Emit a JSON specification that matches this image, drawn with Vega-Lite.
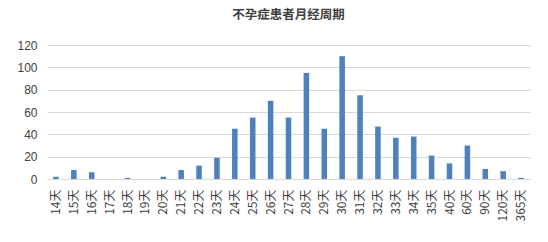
{
  "$schema": "https://vega.github.io/schema/vega-lite/v6.json",
  "autosize": "none",
  "width": 483,
  "height": 134,
  "padding": {"left": 47, "top": 45, "right": 18, "bottom": 63},
  "background": "white",
  "title": {
    "text": "不孕症患者月经周期",
    "font": "Noto Sans CJK SC",
    "fontSize": 12.5,
    "fontWeight": "bold",
    "color": "#404040",
    "offset": 18,
    "anchor": "middle"
  },
  "data": {
    "values": [
      {"cycle": "14天", "count": 2},
      {"cycle": "15天", "count": 8},
      {"cycle": "16天", "count": 6},
      {"cycle": "17天", "count": 0},
      {"cycle": "18天", "count": 1},
      {"cycle": "19天", "count": 0},
      {"cycle": "20天", "count": 2},
      {"cycle": "21天", "count": 8},
      {"cycle": "22天", "count": 12},
      {"cycle": "23天", "count": 19},
      {"cycle": "24天", "count": 45},
      {"cycle": "25天", "count": 55},
      {"cycle": "26天", "count": 70},
      {"cycle": "27天", "count": 55},
      {"cycle": "28天", "count": 95},
      {"cycle": "29天", "count": 45},
      {"cycle": "30天", "count": 110},
      {"cycle": "31天", "count": 75},
      {"cycle": "32天", "count": 47},
      {"cycle": "33天", "count": 37},
      {"cycle": "34天", "count": 38},
      {"cycle": "35天", "count": 21},
      {"cycle": "40天", "count": 14},
      {"cycle": "60天", "count": 30},
      {"cycle": "90天", "count": 9},
      {"cycle": "120天", "count": 7},
      {"cycle": "365天", "count": 1}
    ]
  },
  "mark": {"type": "bar", "color": "#4f81bd"},
  "encoding": {
    "x": {
      "field": "cycle",
      "type": "nominal",
      "sort": null,
      "scale": {"paddingInner": 0.69, "paddingOuter": 0.345},
      "axis": {
        "title": null,
        "labelAngle": -90,
        "labelFont": "Noto Sans CJK SC",
        "labelFontSize": 12,
        "labelColor": "#404040",
        "labelPadding": 10,
        "ticks": false,
        "domainColor": "#d9d9d9",
        "domainWidth": 1
      }
    },
    "y": {
      "field": "count",
      "type": "quantitative",
      "scale": {"domain": [0, 120], "nice": false},
      "axis": {
        "title": null,
        "values": [0, 20, 40, 60, 80, 100, 120],
        "labelFont": "Liberation Sans",
        "labelFontSize": 12,
        "labelColor": "#404040",
        "labelPadding": 10,
        "ticks": false,
        "domain": false,
        "gridColor": "#d9d9d9",
        "gridWidth": 1
      }
    }
  },
  "config": {"view": {"stroke": null}}
}
